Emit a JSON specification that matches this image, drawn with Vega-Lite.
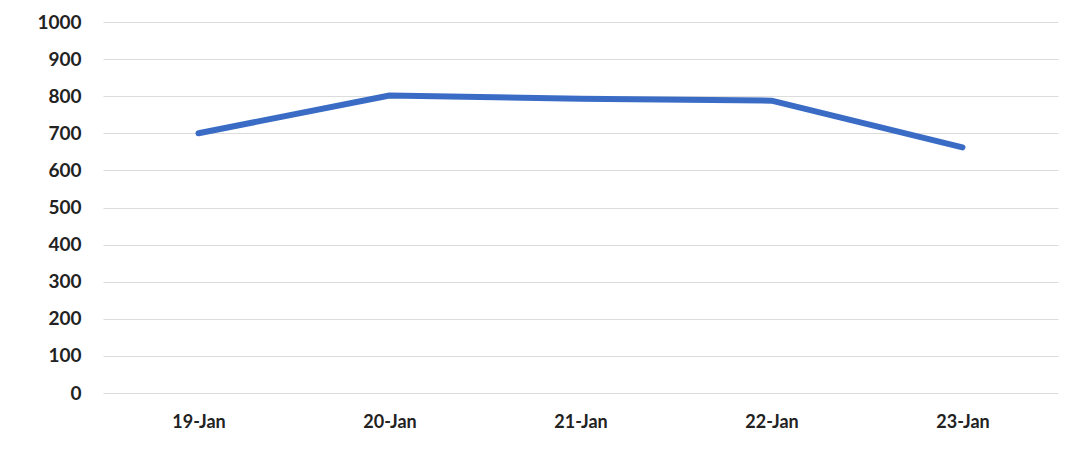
{
  "$schema": "https://vega.github.io/schema/vega-lite/v6.json",
  "autosize": "none",
  "width": 955,
  "height": 371,
  "padding": {"left": 103, "top": 22, "right": 15, "bottom": 56},
  "background": "white",
  "config": {"view": {"stroke": null}, "font": "Lato"},
  "data": {"values": [
    {"date": "19-Jan", "value": 700},
    {"date": "20-Jan", "value": 802},
    {"date": "21-Jan", "value": 793},
    {"date": "22-Jan", "value": 788},
    {"date": "23-Jan", "value": 662}
  ]},
  "mark": {"type": "line", "color": "#3a6cc6", "strokeWidth": 6, "strokeCap": "round", "strokeJoin": "round"},
  "encoding": {
    "x": {"field": "date", "type": "ordinal", "sort": null,
      "scale": {"type": "point", "padding": 0.5},
      "axis": {"title": null, "labelAngle": 0, "domain": false, "ticks": false, "grid": false,
        "labelFont": "Lato", "labelFontWeight": "bold", "labelFontSize": 18, "labelColor": "#222222", "labelPadding": 20}},
    "y": {"field": "value", "type": "quantitative",
      "scale": {"domain": [0, 1000], "nice": false},
      "axis": {"title": null, "values": [0,100,200,300,400,500,600,700,800,900,1000], "format": "d", "domain": false, "ticks": false,
        "gridColor": "#dcdcdc", "gridWidth": 1,
        "labelFont": "Lato", "labelFontWeight": "bold", "labelFontSize": 19, "labelColor": "#222222", "labelPadding": 22}}
  }
}
